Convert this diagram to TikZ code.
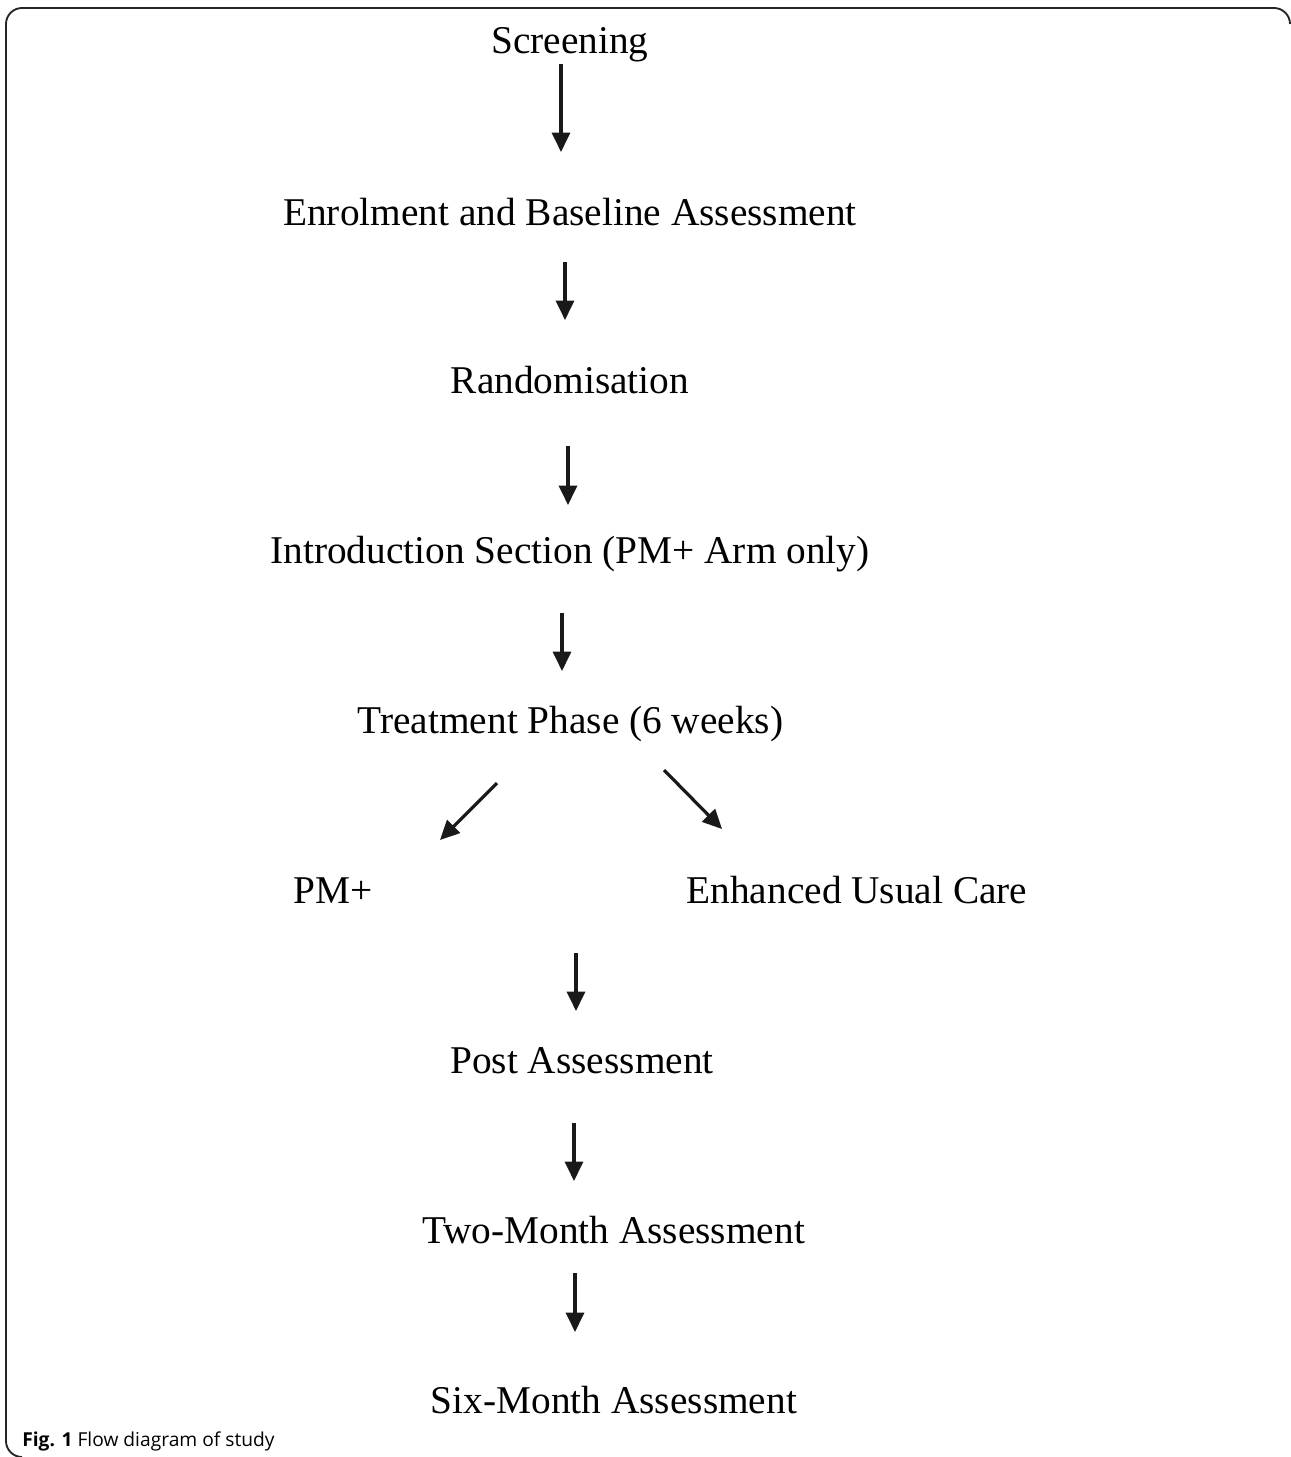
\documentclass[tikz,border=0pt]{standalone}
\usepackage{fontspec}
\setmainfont{Liberation Serif}
\newfontfamily\captionfont{Open Sans}
\usetikzlibrary{calc,arrows.meta}

\begin{document}
\begin{tikzpicture}[
  x=0.75pt,y=-0.75pt,
  stage/.style={inner sep=0pt,anchor=base,font=\fontsize{29.5}{34}\selectfont},
  arrow/.style={-{Triangle[length=14.5pt,width=13.5pt]},line width=2.4pt,color=black!90},
  frame/.style={line width=1.4pt,color=black!85,rounded corners=12}
]
  \useasboundingbox (0,0) rectangle (1290,1457);
  \draw[frame] (20,1457) -- (6,1457) -- (6,8) -- (1290,8) -- (1290,24);

  \node[stage] (scr) at (570,53) {Screening};
  \node[stage] (enr) at (570,225) {Enrolment and Baseline Assessment};
  \node[stage] (rnd) at (570,393) {Randomisation};
  \node[stage] (intro) at (570,563) {Introduction Section (PM+ Arm only)};
  \node[stage] (trt) at (570.5,733) {Treatment Phase (6 weeks)};
  \node[stage] (pm) at (333,903) {PM+};
  \node[stage] (euc) at (857,903) {Enhanced Usual Care};
  \node[stage] (post) at (582,1073) {Post Assessment};
  \node[stage] (two) at (613.5,1243) {Two-Month Assessment};
  \node[stage] (six) at (614,1413) {Six-Month Assessment};

  \node[anchor=base west,inner sep=0pt,font=\captionfont\fontsize{14.4}{16}\selectfont] (cap) at (22,1446)
    {\textbf{Fig. 1} Flow diagram of study};

  \draw[arrow] ($(scr.base)+(-9,11)$) -- ($(enr.base)+(-9,-73)$);
  \draw[arrow] ($(enr.base)+(-5,37)$) -- ($(rnd.base)+(-5,-73)$);
  \draw[arrow] ($(rnd.base)+(-2,53)$) -- ($(intro.base)+(-2,-58)$);
  \draw[arrow] ($(intro.base)+(-8,50)$) -- ($(trt.base)+(-8.5,-62)$);
  \draw[arrow] ($(trt.base)+(-73.5,50)$) -- ($(pm.base)+(107,-63)$);
  \draw[arrow] ($(trt.base)+(93.5,37)$) -- ($(euc.base)+(-135,-74)$);
  \draw[arrow] ($(pm.base)!0.5!(euc.base)+(-19,50)$) -- ($(post.base)+(-6,-62)$);
  \draw[arrow] ($(post.base)+(-8,50)$) -- ($(two.base)+(-39.5,-62)$);
  \draw[arrow] ($(two.base)+(-38.5,30)$) -- ($(six.base)+(-39,-81)$);
\end{tikzpicture}
\end{document}
